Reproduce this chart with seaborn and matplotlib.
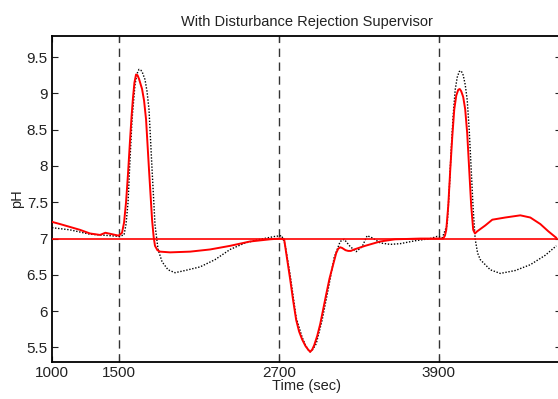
import matplotlib
matplotlib.use("Agg")
import matplotlib.pyplot as plt
import seaborn as sns
import pandas as pd

# Controlled response (with supervisor) - red solid
t_red = [1000, 1060, 1135, 1210, 1285, 1360, 1400, 1450, 1500, 1525, 1540, 1555, 1570,
         1585, 1597, 1607, 1618, 1630, 1641, 1652, 1675, 1690, 1705, 1727, 1750, 1762,
         1772, 1790, 1810, 1885, 2035, 2185, 2335, 2485, 2635, 2710, 2740, 2762, 2785,
         2808, 2830, 2852, 2875, 2900, 2920, 2935, 2950, 2965, 2988, 3010, 3032, 3055,
         3080, 3107, 3130, 3145, 3160, 3175, 3200, 3220, 3240, 3265, 3347, 3460, 3572,
         3760, 3932, 3945, 3955, 3970, 3985, 4000, 4015, 4030, 4045, 4056, 4067, 4082,
         4097, 4112, 4127, 4142, 4157, 4170, 4187, 4247, 4300, 4397, 4510, 4585, 4660,
         4720, 4780]
ph_red = [7.23, 7.20, 7.16, 7.12, 7.07, 7.05, 7.08, 7.06, 7.04, 7.08, 7.22, 7.50, 7.90,
          8.36, 8.70, 8.94, 9.15, 9.26, 9.25, 9.20, 9.06, 8.90, 8.64, 7.95, 7.26, 7.02,
          6.90, 6.84, 6.82, 6.81, 6.82, 6.85, 6.90, 6.96, 6.99, 7.00, 6.99, 6.72, 6.44,
          6.14, 5.88, 5.72, 5.61, 5.52, 5.47, 5.44, 5.47, 5.53, 5.66, 5.82, 6.02, 6.23,
          6.45, 6.64, 6.80, 6.86, 6.88, 6.87, 6.84, 6.83, 6.83, 6.85, 6.90, 6.96, 6.99,
          7.00, 7.00, 7.04, 7.12, 7.45, 7.95, 8.40, 8.78, 8.97, 9.05, 9.06, 9.03, 8.95,
          8.78, 8.45, 7.95, 7.45, 7.12, 7.07, 7.10, 7.18, 7.26, 7.29, 7.32, 7.29, 7.20,
          7.10, 7.01]

# Reference response - black dotted
t_blk = [1000, 1135, 1285, 1435, 1500, 1540, 1555, 1570, 1585, 1600, 1622, 1637, 1652,
         1665, 1675, 1697, 1712, 1727, 1750, 1772, 1795, 1825, 1870, 1922, 1997, 2110,
         2222, 2335, 2447, 2560, 2672, 2722, 2747, 2785, 2830, 2875, 2900, 2920, 2935,
         2950, 2980, 3025, 3070, 3115, 3160, 3190, 3235, 3280, 3325, 3362, 3400, 3460,
         3535, 3610, 3722, 3835, 3887, 3925, 3962, 3977, 3992, 4007, 4022, 4037, 4052,
         4067, 4082, 4097, 4112, 4127, 4142, 4157, 4172, 4190, 4210, 4285, 4360, 4472,
         4585, 4697, 4780]
ph_blk = [7.15, 7.12, 7.06, 7.04, 7.03, 7.05, 7.20, 7.50, 8.10, 8.64, 9.12, 9.27, 9.33,
          9.32, 9.30, 9.19, 9.03, 8.78, 7.95, 7.19, 6.85, 6.68, 6.57, 6.53, 6.56, 6.61,
          6.71, 6.85, 6.94, 6.99, 7.03, 7.04, 6.92, 6.50, 5.91, 5.64, 5.53, 5.47, 5.44,
          5.46, 5.55, 5.88, 6.30, 6.74, 6.96, 6.99, 6.89, 6.82, 6.89, 7.04, 7.01, 6.94,
          6.92, 6.93, 6.97, 7.00, 7.03, 7.01, 7.19, 7.65, 8.23, 8.70, 9.05, 9.22, 9.30,
          9.31, 9.25, 9.12, 8.91, 8.50, 7.95, 7.40, 6.99, 6.80, 6.71, 6.57, 6.52, 6.56,
          6.64, 6.77, 6.90]

setpoint = 7.0
disturbance_times = [1500, 2700, 3900]
x_ticks = [1000, 1500, 2700, 3900]
y_ticks = [5.5, 6, 6.5, 7, 7.5, 8, 8.5, 9, 9.5]

sns.set_style("ticks")
plt.rcParams['font.family'] = ['Liberation Sans', 'DejaVu Sans']

fig = plt.figure(figsize=(5.58, 3.99), dpi=100)
ax = fig.add_axes([52 / 558, 37 / 399, 509 / 558, 326 / 399])

df_blk = pd.DataFrame({"t": t_blk, "pH": ph_blk})
df_red = pd.DataFrame({"t": t_red, "pH": ph_red})

for xv in disturbance_times:
    ax.axvline(xv, color="#333333", linestyle=(0, (6, 4)), linewidth=1.0, zorder=1)

sns.lineplot(data=df_blk, x="t", y="pH", ax=ax, color="black", linestyle=(0, (1, 1.2)),
             linewidth=1.0, zorder=2)
ax.axhline(setpoint, color="red", linewidth=1.2, zorder=3)
sns.lineplot(data=df_red, x="t", y="pH", ax=ax, color="red", linewidth=1.4, zorder=4)

ax.set_xlim(1000, 4815)
ax.set_ylim(5.3, 9.79)
ax.set_xticks(x_ticks)
ax.set_xticklabels([str(v) for v in x_ticks])
ax.set_yticks(y_ticks)
ax.set_yticklabels([f"{v:g}" for v in y_ticks])
ax.tick_params(direction="in", length=4, width=0.8, top=True, right=True,
               labelsize=11, colors="#222222", pad=3)
for s in ax.spines.values():
    s.set_linewidth(1.3)
    s.set_color("black")
ax.spines["right"].set_visible(False)

ax.set_xlabel("Time (sec)", fontsize=10.5, labelpad=-1, color="#222222")
ax.set_ylabel("pH", fontsize=10.5, labelpad=2, color="#222222")
ax.set_title("With Disturbance Rejection Supervisor", fontsize=10.5, pad=7, color="#222222")

fig.savefig("out.png", dpi=100)
